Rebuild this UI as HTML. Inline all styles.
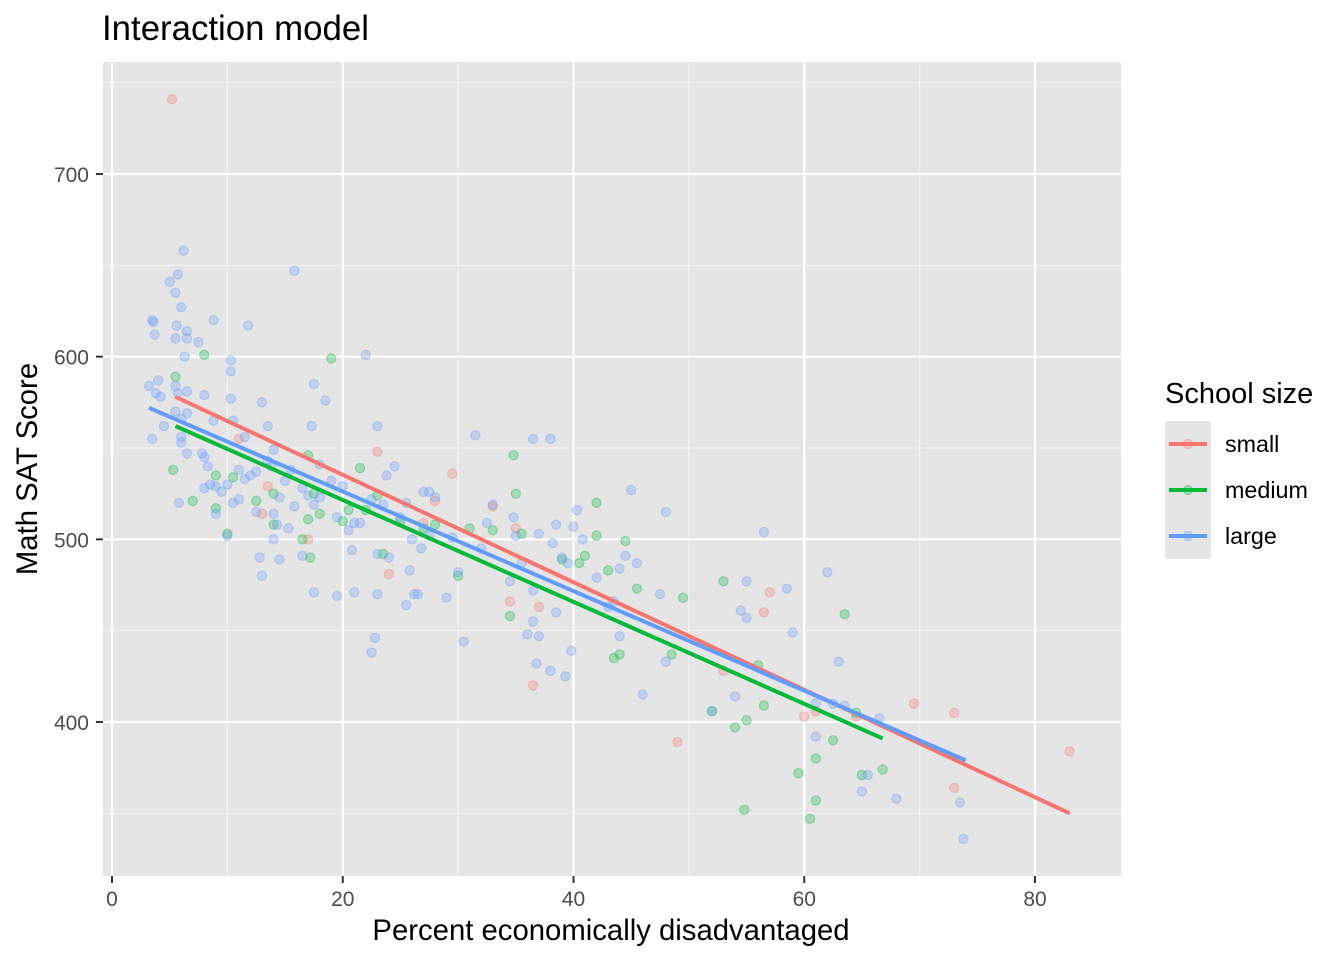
<!DOCTYPE html>
<html><head><meta charset="utf-8"><style>
body{margin:0;background:#fff}
svg text{font-family:"Liberation Sans",Arial,sans-serif}
</style></head><body>
<svg id="chart" width="1344" height="960" xmlns="http://www.w3.org/2000/svg">
<text x="102" y="40" font-size="34.8" fill="#000">Interaction model</text>
<rect x="103" y="62" width="1018" height="814" fill="#e5e5e5"/>
<g id="grid"></g>
<g id="points"></g>
<g id="lines"></g>
<g id="axes"></g>
<text x="611" y="940" font-size="29.3" text-anchor="middle">Percent economically disadvantaged</text>
<text transform="translate(37,469) rotate(-90)" font-size="29.3" text-anchor="middle">Math SAT Score</text>
<g id="legend">
<text x="1165" y="403" font-size="29">School size</text>
</g>
</svg>
<script>
const xTicks=[0,20,40,60,80];
const xMinor=[10,30,50,70];
const yTicks=[400,500,600,700];
const yMinor=[350,450,550,650,750];
const groups=['small','medium','large'];
const colors=['#F8766D','#00BA38','#619CFF'];
const lineColors=['#F8766D','#00BA38','#619CFF'];
const smallX=[5.2,13.5,13,17,23,24,28,29.5,33,34.5,35,36.5,37,53,56.5,57,60,61,64.5,69.5,73,73,83,49,11,27];
const smallY=[741,529,514,500,548,481,521,536,518,466,506,420,463,428,460,471,403,406,403,410,405,364,384,389,555,509];
const mediumX=[5.5,5.3,7,8,9,9,10,10.5,12.5,14,14,16.5,17,17.2,17,17.5,18,19,20,20.5,21.5,22,23,23.5,25,27,28,30,31,33,34.5,35,34.8,35.5,39,40.5,41,42,42,43,44.5,45.5,43.5,44,48.5,49.5,52,53,54,54.8,55,56.5,56,59.5,60.5,61,61,62.5,63.5,64.5,65,66.8];
const mediumY=[589,538,521,601,535,517,503,534,521,525,508,500,511,490,546,525,514,599,510,516,539,516,524,492,510,506,508,480,506,505,458,525,546,503,489,487,491,520,502,483,499,473,435,437,437,468,406,477,397,352,401,409,431,372,347,357,380,390,459,405,371,374];
const largeX=[3.2,3.5,3.6,3.7,3.5,3.8,4,4.5,4.2,5,5.5,5.7,5.6,5.5,6,6.2,6.3,6.5,6.5,5.5,5.7,6.5,5.5,6,6.5,6,6,5.8,6.5,7.5,7.8,8,8,8,8.3,8.5,8.8,8.8,9,9,9.5,10,10,10.3,10.3,10.5,10.3,10.5,11,11,11.5,11.8,11.5,12,12.5,12.5,12.8,13,13,13.5,13.5,13.8,14,14,14,14.3,14.5,14.5,15,15.3,15.5,15.8,15.8,16.5,16.5,17,17.3,17.5,17.5,17.5,18,18,18.5,19,19.5,19.5,20,20.5,20.8,21,21,21.5,22,22.5,22.5,22.8,23,23,23,23.5,23.8,24,24.5,25,25.5,25.5,25.8,26,26.2,26.5,26.8,27,27.5,27.5,28,29,29.5,30,30.5,31.5,32,32.5,33,34.5,34.8,35,35.5,36,36.5,36.5,36.5,36.8,37,37,38,38,38.2,38.5,38.5,39,39.3,39.5,39.8,40,40.3,40.8,42,43,43.5,44,44,44.5,45,45.5,46,47.5,48,48,52,54,54.5,55,55,56.5,58.5,59,61,61,62,62.5,63,63.5,65,65.5,66.5,68,73.5,73.8];
const largeY=[584,620,619,612,555,580,587,562,578,641,635,645,617,610,627,658,600,614,610,584,580,581,570,566,569,556,553,520,547,608,547,579,545,528,540,530,620,565,514,529,526,502,530,592,598,565,577,520,522,538,556,617,533,535,515,537,490,575,480,562,543,540,549,514,500,508,523,489,532,506,538,518,647,491,528,524,562,585,519,471,541,523,576,532,512,469,529,505,494,471,509,509,601,522,438,446,562,492,470,519,535,490,540,512,520,464,483,500,470,470,495,526,526,502,523,468,501,482,444,557,495,509,519,477,512,502,487,448,455,472,555,432,447,503,555,428,498,508,460,490,425,487,439,507,516,500,479,463,466,447,484,491,527,487,415,470,433,515,406,414,461,457,477,504,473,449,410,392,482,410,433,409,362,371,402,358,356,336];
const fitX1=[5.5,5.5,3.2];
const fitY1=[578,562,572];
const fitX2=[83,66.8,74];
const fitY2=[350,391,379];

const NS='http://www.w3.org/2000/svg';
const X0=103,X1=1121,Y0=62,Y1=876;
function sx(v){return 112+(v-0)*(1035-112)/80;}
function sy(v){return 174+(700-v)*(722-174)/300;}
function mk(tag,attrs,parent){const e=document.createElementNS(NS,tag);for(const k in attrs)e.setAttribute(k,attrs[k]);parent.appendChild(e);return e;}
const grid=document.getElementById('grid');
xMinor.forEach(v=>{const l=mk('line',{x1:sx(v),x2:sx(v),y1:Y0,y2:Y1,stroke:'#f2f2f2','stroke-width':1.1},grid);

});
yMinor.forEach(v=>{const l=mk('line',{x1:X0,x2:X1,y1:sy(v),y2:sy(v),stroke:'#f2f2f2','stroke-width':1.1},grid);

});
xTicks.forEach(v=>{const l=mk('line',{x1:sx(v),x2:sx(v),y1:Y0,y2:Y1,stroke:'#fff','stroke-width':2.2},grid);

});
yTicks.forEach(v=>{const l=mk('line',{x1:X0,x2:X1,y1:sy(v),y2:sy(v),stroke:'#fff','stroke-width':2.2},grid);

});
const axes=document.getElementById('axes');
xTicks.forEach(v=>{const t=mk('line',{x1:sx(v),x2:sx(v),y1:Y1,y2:Y1+7,stroke:'#333','stroke-width':2},axes);


const s=mk('text',{x:sx(v),y:906,'font-size':21,fill:'#4d4d4d','text-anchor':'middle'},axes);s.textContent=v;

});
yTicks.forEach(v=>{const t=mk('line',{x1:X0-7,x2:X0,y1:sy(v),y2:sy(v),stroke:'#333','stroke-width':2},axes);


const s=mk('text',{x:89,y:sy(v)+8,'font-size':21,fill:'#4d4d4d','text-anchor':'end'},axes);s.textContent=v;

});
const pts=document.getElementById('points');
const series=[[smallX,smallY],[mediumX,mediumY],[largeX,largeY]];
series.forEach((s,gi)=>{s[0].forEach((xv,i)=>{const c=mk('circle',{cx:sx(xv),cy:sy(s[1][i]),r:4.6,fill:colors[gi],'fill-opacity':0.28,stroke:colors[gi],'stroke-opacity':0.35,'stroke-width':1.2},pts);

});});
const lines=document.getElementById('lines');
groups.forEach((g,i)=>{const l=mk('line',{x1:sx(fitX1[i]),y1:sy(fitY1[i]),x2:sx(fitX2[i]),y2:sy(fitY2[i]),stroke:lineColors[i],'stroke-width':4},lines);

});
const leg=document.getElementById('legend');
groups.forEach((g,i)=>{const y=421+i*46;
const r=mk('rect',{x:1165,y:y,width:46,height:46,fill:'#e5e5e5'},leg);


mk('line',{x1:1169,x2:1207,y1:y+23,y2:y+23,stroke:lineColors[i],'stroke-width':4},leg);
mk('circle',{cx:1188,cy:y+23,r:4.6,fill:colors[i],'fill-opacity':0.28,stroke:colors[i],'stroke-opacity':0.35,'stroke-width':1.2},leg);
const t=mk('text',{x:1225,y:y+31,'font-size':23.3,fill:'#000'},leg);t.textContent=g;

});
</script>
</body></html>
